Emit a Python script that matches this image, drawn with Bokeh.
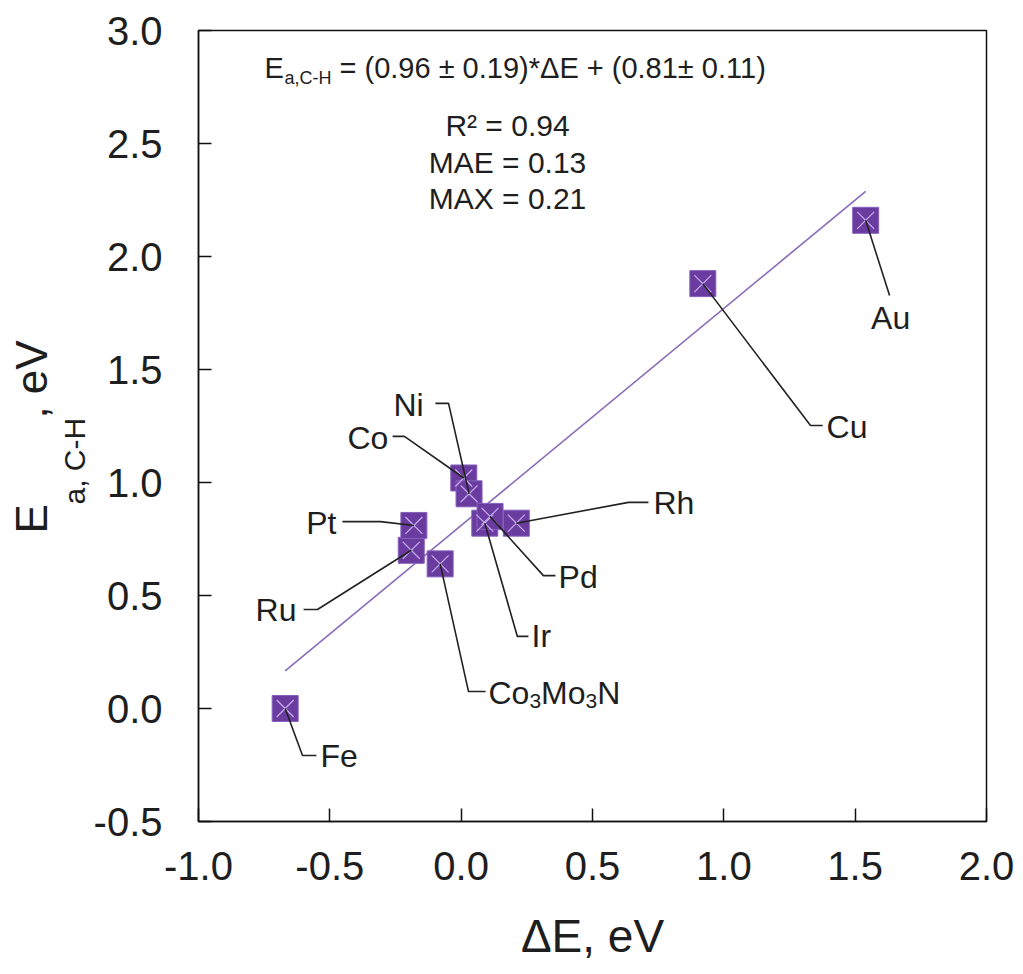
import numpy as np
from bokeh.plotting import figure
from bokeh.models import Range1d, Label, FixedTicker, ColumnDataSource, Title
from bokeh.embed import file_html
from bokeh.resources import INLINE

# ---------------- data ----------------
metals = ["Fe", "Ru", "Pt", "Co3Mo3N", "Co", "Ni", "Ir", "Pd", "Rh", "Cu", "Au"]
delta_E = [-0.67, -0.19, -0.18, -0.08, 0.01, 0.03, 0.09, 0.11, 0.21, 0.92, 1.54]
Ea_CH = [0.00, 0.70, 0.81, 0.64, 1.02, 0.95, 0.82, 0.85, 0.82, 1.88, 2.16]

fit_slope = 0.96
fit_intercept = 0.81

x_ticks = [-1.0, -0.5, 0.0, 0.5, 1.0, 1.5, 2.0]
x_tick_labels = ["-1.0", "-0.5", "0.0", "0.5", "1.0", "1.5", "2.0"]
y_ticks = [-0.5, 0.0, 0.5, 1.0, 1.5, 2.0, 2.5, 3.0]
y_tick_labels = ["-0.5", "0.0", "0.5", "1.0", "1.5", "2.0", "2.5", "3.0"]

eq_lines = ["R\u00b2 = 0.94", "MAE = 0.13", "MAX = 0.21"]

# label layout (data units): leader bend point, end of short horizontal tail, text anchor
label_bend_x = [-0.604, -0.547, -0.307, 0.028, -0.216, -0.048, 0.214, 0.313, 0.637, 1.330, 1.631]
label_bend_y = [-0.208, 0.438, 0.827, 0.075, 1.204, 1.350, 0.319, 0.588, 0.912, 1.252, 1.827]
label_tail_x = [-0.551, -0.600, -0.452, 0.093, -0.261, -0.098, 0.256, 0.359, 0.713, 1.376, 1.631]
label_text_x = [-0.536, -0.627, -0.475, 0.104, -0.277, -0.143, 0.268, 0.371, 0.732, 1.391, 1.635]
label_text_y = [-0.208, 0.434, 0.823, 0.070, 1.199, 1.341, 0.319, 0.582, 0.908, 1.245, 1.726]
label_align = ["left", "right", "right", "left", "right", "right", "left", "left", "left", "left", "center"]

# ---------------- layout ----------------
X_MIN, X_MAX = -1.0, 2.0
Y_MIN, Y_MAX = -0.5, 3.0
TOTAL_H = 974
FRAME_L, FRAME_T = 198, 30   # frame position on the page
FRAME_W, FRAME_H = 788, 791
BORDER_R = 34
BORDER_B = TOTAL_H - FRAME_T - FRAME_H


def px2x(px):
    return X_MIN + (px - FRAME_L) / FRAME_W * (X_MAX - X_MIN)


def py2y(py):
    return Y_MAX - (py - FRAME_T) / FRAME_H * (Y_MAX - Y_MIN)


FONT = "Liberation Sans"
TXT = "#1e1e1e"
PURPLE = "#6a3c9f"
NBSP = "\u00a0"

p = figure(
    frame_width=FRAME_W, frame_height=FRAME_H,
    x_range=Range1d(X_MIN, X_MAX), y_range=Range1d(Y_MIN, Y_MAX),
    output_backend="svg", toolbar_location=None,
    min_border_left=FRAME_L, min_border_top=FRAME_T,
    min_border_right=BORDER_R, min_border_bottom=BORDER_B,
    background_fill_color="white", border_fill_color="white",
)
p.xgrid.visible = False
p.ygrid.visible = False
p.outline_line_color = "#111111"
p.outline_line_width = 1.5

for ax, ticks, labels in ((p.xaxis[0], x_ticks, x_tick_labels), (p.yaxis[0], y_ticks, y_tick_labels)):
    ax.ticker = FixedTicker(ticks=ticks)
    ax.major_label_overrides = {t: l for t, l in zip(ticks, labels)}
    ax.major_tick_in = 13
    ax.major_tick_out = 0
    ax.minor_tick_line_color = None
    ax.axis_line_color = "#111111"
    ax.axis_line_width = 1.5
    ax.major_tick_line_color = "#111111"
    ax.major_tick_line_width = 1.5
    ax.major_label_text_font = FONT
    ax.major_label_text_font_size = "40px"
    ax.major_label_text_color = TXT
p.xaxis.major_label_standoff = 30
p.yaxis.major_label_standoff = 36

p.xaxis.axis_label = "\u0394E, eV"
p.xaxis.axis_label_text_font = FONT
p.xaxis.axis_label_text_font_size = "46px"
p.xaxis.axis_label_text_font_style = "normal"
p.xaxis.axis_label_text_color = TXT
p.xaxis.axis_label_standoff = 27

# y title: subscript as a rotated title next to the axis, main part "E ... , eV" outside it
p.add_layout(Title(text="a, C-H", align="left", offset=317, standoff=0,
                   text_font=FONT, text_font_size="30px", text_font_style="normal",
                   text_color=TXT), "left")
p.add_layout(Title(text="E" + NBSP * 7 + ", eV", align="left", offset=288, standoff=0,
                   text_font=FONT, text_font_size="44px", text_font_style="normal",
                   text_color=TXT), "left")

# fit line
fx = np.array([min(delta_E), max(delta_E)])
p.line(fx, fit_slope * fx + fit_intercept, line_color="#8a6bb8", line_width=1.6)

# markers
src = ColumnDataSource(dict(x=delta_E, y=Ea_CH, name=metals))
p.scatter("x", "y", source=src, marker="square", size=26,
          fill_color=PURPLE, line_color="#8660bd", line_width=1)
p.scatter("x", "y", source=src, marker="x", size=24,
          line_color="#c9aef0", line_width=1.2)

# leader lines
xs, ys = [], []
for i in range(len(metals)):
    xs.append([delta_E[i], label_bend_x[i], label_tail_x[i]])
    ys.append([Ea_CH[i], label_bend_y[i], label_bend_y[i]])
p.multi_line(xs, ys, line_color="#222222", line_width=1.6)

# point labels
for i, name in enumerate(metals):
    if name == "Co3Mo3N":
        pieces = [("Co", 0, 32, 0), ("3", 40.9, 21, -8), ("Mo", 52.6, 32, 0),
                  ("3", 97.0, 21, -8), ("N", 108.7, 32, 0)]
        for t, off, fs, yo in pieces:
            p.add_layout(Label(x=label_text_x[i], y=label_text_y[i], text=t,
                               x_offset=off, y_offset=yo, text_align="left",
                               text_baseline="middle", text_font=FONT,
                               text_font_size=f"{fs}px", text_color=TXT))
    else:
        p.add_layout(Label(x=label_text_x[i], y=label_text_y[i], text=name,
                           text_align=label_align[i], text_baseline="middle",
                           text_font=FONT, text_font_size="32px", text_color=TXT))

# equation block
eq_x0 = px2x(264)
eq_base = py2y(67)
p.add_layout(Label(x=eq_x0, y=eq_base, text="E", text_align="left",
                   text_baseline="alphabetic", text_font=FONT,
                   text_font_size="29px", text_color=TXT))
p.add_layout(Label(x=eq_x0, y=eq_base, text="a,C-H", x_offset=20, y_offset=-10,
                   text_align="left", text_baseline="alphabetic", text_font=FONT,
                   text_font_size="18px", text_color=TXT))
p.add_layout(Label(x=eq_x0, y=eq_base, text="= (0.96 \u00b1 0.19)*\u0394E + (0.81\u00b1 0.11)",
                   x_offset=75, text_align="left", text_baseline="alphabetic",
                   text_font=FONT, text_font_size="29px", text_color=TXT))
for line_text, base_px in zip(eq_lines, [125, 162, 198]):
    p.add_layout(Label(x=px2x(507), y=py2y(base_px), text=line_text,
                       text_align="center", text_baseline="alphabetic",
                       text_font=FONT, text_font_size="30px", text_color=TXT))

open("out.html", "w").write(file_html(p, INLINE))
